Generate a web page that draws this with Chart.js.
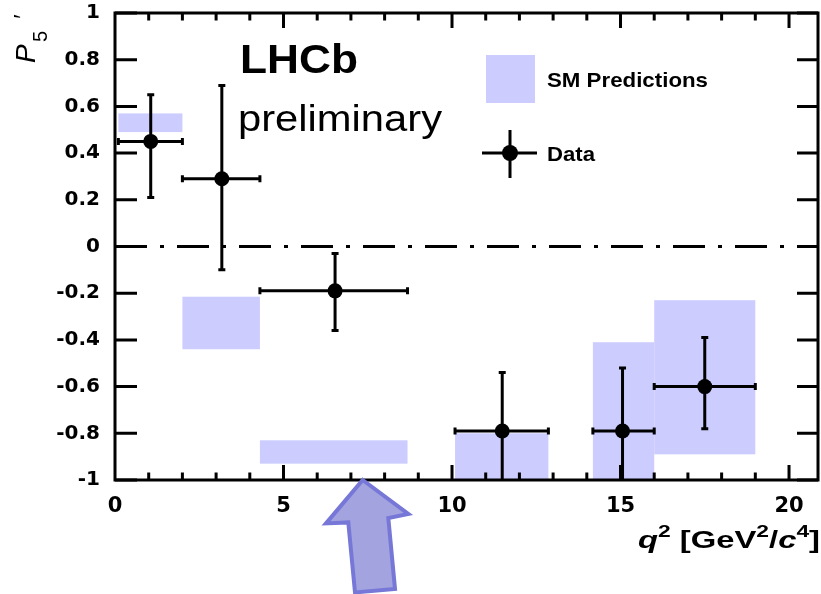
<!DOCTYPE html>
<html><head><meta charset="utf-8">
<script src="https://cdn.jsdelivr.net/npm/chart.js@4"></script>
<style>html,body{margin:0;padding:0;background:#fff;}#c{display:block;}</style>
</head><body>
<canvas id="c" width="821" height="594"></canvas>
<script>
// ---- data ----
const binLow  = [0.1, 2.0, 4.3, 10.09, 14.18, 16.0];
const binHigh = [2.0, 4.3, 8.68, 12.86, 16.0, 19.0];
const dataX   = [1.06, 3.17, 6.53, 11.49, 15.06, 17.5];
const dataY   = [0.45, 0.29, -0.19, -0.79, -0.79, -0.60];
const errUp   = [0.20, 0.40, 0.16, 0.25, 0.27, 0.21];
const errDown = [0.24, 0.39, 0.17, 0.28, 0.28, 0.18];
const smLow   = [0.49, -0.44, -0.93, -1.0, -1.0, -0.89];
const smHigh  = [0.57, -0.215, -0.83, -0.80, -0.41, -0.23];
const xTicks = [0, 5, 10, 15, 20];
const xTickLabels = ['0', '5', '10', '15', '20'];
const yTicks = [-1, -0.8, -0.6, -0.4, -0.2, 0, 0.2, 0.4, 0.6, 0.8, 1];
const yTickLabels = ['-1', '-0.8', '-0.6', '-0.4', '-0.2', '0', '0.2', '0.4', '0.6', '0.8', '1'];
const arrowTip = {x: 7.35, y: -1};

const SANS = '"Liberation Sans", Arial, sans-serif';

function fitText(ctx, str, x, y, font, targetW) {
  ctx.save();
  ctx.font = font;
  const w = ctx.measureText(str).width;
  const sx = targetW / w;
  ctx.translate(x, y);
  ctx.scale(sx, 1);
  ctx.textAlign = 'left';
  ctx.textBaseline = 'alphabetic';
  ctx.fillText(str, 0, 0);
  ctx.restore();
}

const overlay = {
  id: 'overlay',
  beforeDatasetsDraw(chart) {
    const {ctx, chartArea: a, scales: {x, y}} = chart;
    ctx.save();
    ctx.beginPath();
    ctx.rect(a.left, a.top, a.right - a.left, a.bottom - a.top);
    ctx.clip();
    // SM prediction boxes
    ctx.fillStyle = '#ccccff';
    for (let i = 0; i < binLow.length; i++) {
      const x0 = x.getPixelForValue(binLow[i]), x1 = x.getPixelForValue(binHigh[i]);
      const y0 = y.getPixelForValue(smHigh[i]), y1 = y.getPixelForValue(smLow[i]);
      ctx.fillRect(x0, y0, x1 - x0, y1 - y0);
    }
    // zero line (dash-dot)
    ctx.strokeStyle = '#000';
    ctx.lineWidth = 3;
    ctx.setLineDash([32, 13, 4, 13]);
    const yz = y.getPixelForValue(0);
    ctx.beginPath(); ctx.moveTo(a.left, yz); ctx.lineTo(a.right, yz); ctx.stroke();
    ctx.setLineDash([]);
    // error bars
    ctx.lineWidth = 3;
    const cap = 3.5;
    for (let i = 0; i < dataX.length; i++) {
      const px = x.getPixelForValue(dataX[i]), py = y.getPixelForValue(dataY[i]);
      const xl = x.getPixelForValue(binLow[i]), xr = x.getPixelForValue(binHigh[i]);
      const yt = y.getPixelForValue(dataY[i] + errUp[i]), yb = y.getPixelForValue(dataY[i] - errDown[i]);
      ctx.beginPath();
      ctx.moveTo(xl, py); ctx.lineTo(xr, py);
      ctx.moveTo(px, yt); ctx.lineTo(px, yb);
      ctx.moveTo(xl, py - cap); ctx.lineTo(xl, py + cap);
      ctx.moveTo(xr, py - cap); ctx.lineTo(xr, py + cap);
      ctx.moveTo(px - cap, yt); ctx.lineTo(px + cap, yt);
      ctx.moveTo(px - cap, yb); ctx.lineTo(px + cap, yb);
      ctx.stroke();
    }
    ctx.restore();
  },
  afterDraw(chart) {
    const {ctx, chartArea: a, scales: {x, y}} = chart;
    ctx.save();
    ctx.strokeStyle = '#000';
    ctx.lineWidth = 3;
    ctx.lineCap = 'butt';
    // frame
    ctx.strokeRect(a.left, a.top, a.right - a.left, a.bottom - a.top);
    // inward ticks: x minor every unit, major at labelled ticks; y at labelled ticks
    ctx.beginPath();
    for (let v = 1; v <= 20; v++) {
      const px = x.getPixelForValue(v);
      const len = xTicks.includes(v) ? 15 : 7.5;
      ctx.moveTo(px, a.bottom); ctx.lineTo(px, a.bottom - len);
      ctx.moveTo(px, a.top); ctx.lineTo(px, a.top + len);
    }
    yTicks.forEach(v => {
      const py = y.getPixelForValue(v);
      ctx.moveTo(a.left, py); ctx.lineTo(a.left + 22, py);
      ctx.moveTo(a.right, py); ctx.lineTo(a.right - 21, py);
    });
    ctx.stroke();

    ctx.fillStyle = '#000';
    // LHCb preliminary
    fitText(ctx, 'LHCb', 240, 73, 'bold 40px ' + SANS, 118);
    fitText(ctx, 'preliminary', 238, 131, '37px ' + SANS, 204);

    // legend
    ctx.fillStyle = '#ccccff';
    ctx.fillRect(486, 55, 49, 48);
    ctx.fillStyle = '#000';
    fitText(ctx, 'SM Predictions', 547, 87, 'bold 21px ' + SANS, 161);
    ctx.beginPath();
    ctx.moveTo(482, 153); ctx.lineTo(537, 153);
    ctx.moveTo(510, 130); ctx.lineTo(510, 178);
    ctx.stroke();
    ctx.beginPath(); ctx.arc(510, 153, 8, 0, Math.PI * 2); ctx.fill();
    fitText(ctx, 'Data', 547, 161, 'bold 21px ' + SANS, 48);

    // y-axis title P5'
    ctx.save();
    ctx.translate(35, 63);
    ctx.rotate(-Math.PI / 2);
    ctx.textAlign = 'left'; ctx.textBaseline = 'alphabetic';
    ctx.font = 'italic 28px ' + SANS;
    ctx.fillText('P', 0, 0);
    ctx.font = '20px ' + SANS;
    ctx.fillText('5', 21, 12);
    ctx.font = 'italic 24px ' + SANS;
    ctx.fillText('\u2032', 43, -4);
    ctx.restore();

    // x-axis title q^2 [GeV^2/c^4]
    const big = 23, small = 16, rise = 11;
    const pieces = [
      ['q', 'italic bold ' + big + 'px ' + SANS, 0],
      ['2', 'bold ' + small + 'px ' + SANS, rise],
      [' [GeV', 'bold ' + big + 'px ' + SANS, 0],
      ['2', 'bold ' + small + 'px ' + SANS, rise],
      ['/', 'bold ' + big + 'px ' + SANS, 0],
      ['c', 'italic bold ' + big + 'px ' + SANS, 0],
      ['4', 'bold ' + small + 'px ' + SANS, rise],
      [']', 'bold ' + big + 'px ' + SANS, 0]
    ];
    let tot = 0;
    pieces.forEach(p => { ctx.font = p[1]; tot += ctx.measureText(p[0]).width; });
    const sx = (820 - 638) / tot;
    ctx.save();
    ctx.translate(638, 548);
    ctx.scale(sx, 1);
    let cx = 0;
    ctx.textAlign = 'left'; ctx.textBaseline = 'alphabetic';
    pieces.forEach(p => { ctx.font = p[1]; ctx.fillText(p[0], cx, -p[2]); cx += ctx.measureText(p[0]).width; });
    ctx.restore();

    // arrow annotation pointing at the axis
    const tx = x.getPixelForValue(arrowTip.x), ty = y.getPixelForValue(arrowTip.y);
    const poly = [[0, 0], [45.6, 34], [25.6, 38], [32.3, 109], [-7.7, 112.4], [-14.4, 42.4], [-36.7, 43.4]];
    ctx.beginPath();
    poly.forEach((p, i) => { if (i === 0) ctx.moveTo(tx + p[0], ty + p[1]); else ctx.lineTo(tx + p[0], ty + p[1]); });
    ctx.closePath();
    ctx.fillStyle = '#a3a3e0';
    ctx.fill();
    ctx.lineWidth = 4;
    ctx.lineJoin = 'miter';
    ctx.strokeStyle = '#7777d8';
    ctx.stroke();
    ctx.restore();
  }
};

const tickFontY = {family: '"DejaVu Sans", sans-serif', weight: 'bold', size: 20};
const tickFontX = {family: '"DejaVu Sans", sans-serif', weight: 'bold', size: 21};

new Chart(document.getElementById('c').getContext('2d'), {
  type: 'scatter',
  data: {
    datasets: [{
      label: 'Data',
      data: dataX.map((v, i) => ({x: v, y: dataY[i]})),
      pointRadius: 7.5,
      pointHoverRadius: 7.5,
      backgroundColor: '#000',
      borderWidth: 0,
      clip: false
    }]
  },
  options: {
    responsive: false,
    animation: false,
    devicePixelRatio: 1,
    layout: {autoPadding: false, padding: {top: 13, right: 3, left: 0, bottom: 0}},
    plugins: {legend: {display: false}, tooltip: {enabled: false}},
    scales: {
      x: {
        type: 'linear', min: 0, max: 20.86,
        grid: {display: false}, border: {display: false},
        afterBuildTicks: s => { s.ticks = xTicks.map(v => ({value: v})); },
        afterFit: s => { s.height = 114; s.paddingLeft = 0; s.paddingRight = 0; },
        ticks: {
          padding: 6, color: '#000', font: tickFontX, maxRotation: 0, autoSkip: false,
          callback: v => xTickLabels[xTicks.indexOf(v)]
        }
      },
      y: {
        type: 'linear', min: -1, max: 1,
        grid: {display: false}, border: {display: false},
        afterBuildTicks: s => { s.ticks = yTicks.map(v => ({value: v})); },
        afterFit: s => { s.width = 115; s.paddingTop = 0; s.paddingBottom = 0; },
        ticks: {
          padding: 7, color: '#000', font: tickFontY, autoSkip: false,
          callback: v => yTickLabels[yTicks.findIndex(t => Math.abs(t - v) < 1e-9)]
        }
      }
    }
  },
  plugins: [overlay]
});
</script>
</body></html>
